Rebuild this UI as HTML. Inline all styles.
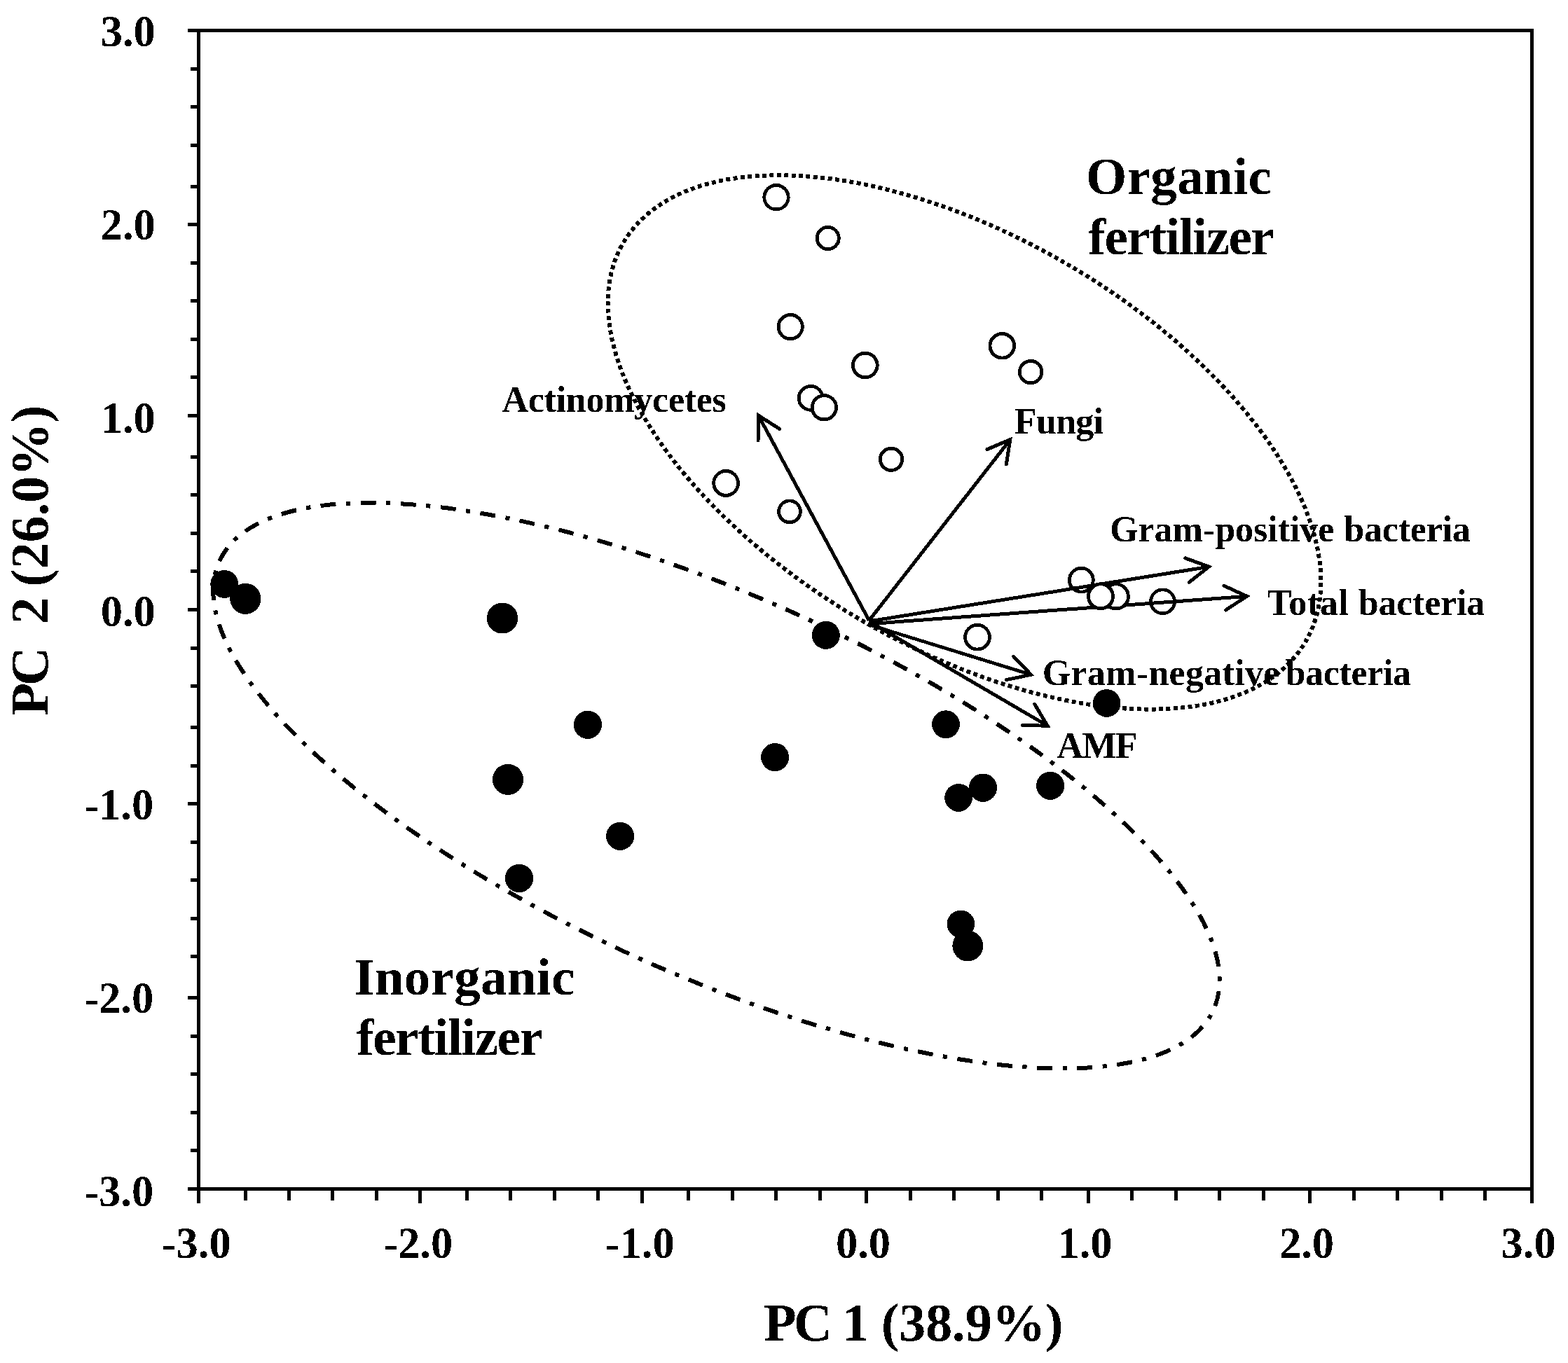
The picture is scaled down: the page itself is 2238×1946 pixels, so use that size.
<!DOCTYPE html>
<html lang="en">
<head>
<meta charset="utf-8">
<title>PCA biplot: PC 1 (38.9%) vs PC 2 (26.0%)</title>
<style>
html, body { margin: 0; padding: 0; background: #fff; }
body { width: 2238px; height: 1946px; overflow: hidden; }
svg { display: block; }
text { font-family: 'Liberation Serif', 'Times New Roman', Times, serif; font-weight: bold; fill: #000; white-space: pre; }
</style>
</head>
<body>
<svg width="2238" height="1946" viewBox="0 0 2238 1946" role="img" aria-label="PCA biplot of soil microbial groups under organic and inorganic fertilizer">
<defs>
<filter id="bilevel" x="0" y="0" width="2238" height="1946" filterUnits="userSpaceOnUse" color-interpolation-filters="sRGB">
<feComponentTransfer>
<feFuncR type="discrete" tableValues="0 1"/>
<feFuncG type="discrete" tableValues="0 1"/>
<feFuncB type="discrete" tableValues="0 1"/>
</feComponentTransfer>
</filter>
</defs>
<g filter="url(#bilevel)">
<rect x="0" y="0" width="2238" height="1946" fill="#ffffff"/>
<!-- filled markers: inorganic fertilizer -->
<g fill="#000" stroke="none">
<circle cx="320.2" cy="833.8" r="19.9"/>
<circle cx="350.3" cy="854.8" r="22.1"/>
<circle cx="717.0" cy="882.5" r="22.1"/>
<circle cx="1178.8" cy="906.8" r="20.0"/>
<circle cx="838.9" cy="1034.7" r="20.1"/>
<circle cx="1350.0" cy="1034.1" r="19.9"/>
<circle cx="1579.6" cy="1003.9" r="19.8"/>
<circle cx="1106.1" cy="1081.1" r="20.0"/>
<circle cx="725.0" cy="1112.9" r="22.1"/>
<circle cx="1368.1" cy="1138.8" r="19.9"/>
<circle cx="1403.1" cy="1124.6" r="20.1"/>
<circle cx="1499.1" cy="1121.8" r="20.0"/>
<circle cx="885.1" cy="1193.8" r="20.0"/>
<circle cx="741.0" cy="1253.8" r="20.2"/>
<circle cx="1371.4" cy="1319.2" r="19.8"/>
<circle cx="1381.3" cy="1350.4" r="21.9"/>
</g>
<!-- open markers (lower layer): organic fertilizer -->
<g fill="#fff" stroke="#000" stroke-width="4.8">
<circle cx="1108.0" cy="281.7" r="17.20"/>
<circle cx="1181.7" cy="340.0" r="15.60"/>
<circle cx="1128.2" cy="466.6" r="17.10"/>
<circle cx="1234.8" cy="521.5" r="17.40"/>
<circle cx="1157.2" cy="568.4" r="17.00"/>
<circle cx="1176.4" cy="581.8" r="17.20"/>
<circle cx="1430.3" cy="493.8" r="17.30"/>
<circle cx="1471.1" cy="531.1" r="15.80"/>
<circle cx="1272.0" cy="655.8" r="15.70"/>
<circle cx="1036.1" cy="689.9" r="17.40"/>
<circle cx="1127.0" cy="730.3" r="15.40"/>
<circle cx="1543.3" cy="828.1" r="17.00"/>
<circle cx="1659.5" cy="858.9" r="17.00"/>
<circle cx="1395.0" cy="909.7" r="17.40"/>
</g>
<!-- loading arrows -->
<g fill="none" stroke="#000" stroke-width="5.0" stroke-linecap="butt" stroke-linejoin="miter">
<line x1="1240.5" y1="885.9" x2="1083.4" y2="594.9"/>
<polyline points="1112.6,612.4 1082.4,593.1 1082.0,628.9" stroke-linecap="round" stroke-miterlimit="10"/>
<line x1="1240.5" y1="885.9" x2="1440.6" y2="629.2"/>
<polyline points="1436.3,663.0 1441.8,627.6 1408.9,641.6" stroke-linecap="round" stroke-miterlimit="10"/>
<line x1="1240.5" y1="887.0" x2="1723.5" y2="809.5"/>
<polyline points="1697.3,831.3 1725.5,809.1 1691.8,796.9" stroke-linecap="round" stroke-miterlimit="10"/>
<line x1="1240.5" y1="890.7" x2="1777.5" y2="851.5"/>
<polyline points="1749.5,871.0 1779.5,851.3 1746.9,836.3" stroke-linecap="round" stroke-miterlimit="10"/>
<line x1="1240.5" y1="891.9" x2="1469.6" y2="962.6"/>
<polyline points="1436.5,970.6 1471.6,963.2 1446.7,937.4" stroke-linecap="round" stroke-miterlimit="10"/>
<line x1="1240.6" y1="887.4" x2="1493.4" y2="1035.2"/>
<polyline points="1459.2,1035.4 1495.1,1036.2 1476.8,1005.4" stroke-linecap="round" stroke-miterlimit="10"/>
</g>
<!-- open markers (upper layer) -->
<g fill="#fff" stroke="#000" stroke-width="4.8">
<circle cx="1592.8" cy="851.4" r="17.60"/>
<circle cx="1571.0" cy="851.4" r="17.50"/>
</g>
<!-- group ellipses -->
<g fill="none" stroke="#000">
<ellipse cx="0" cy="0" rx="564.0" ry="293.6" transform="translate(1376.5 631.4) rotate(30.34)" stroke-width="6.0" stroke-dasharray="6 4.4212" stroke-dashoffset="5.12"/>
<ellipse cx="0" cy="0" rx="778.4" ry="270.2" transform="translate(1022.5 1121.6) rotate(24.27)" stroke-width="6.0" stroke-dasharray="22 14.5125 6.2 14.5125" stroke-dashoffset="28.2"/>
</g>
<!-- axes frame and ticks -->
<g fill="#000" stroke="none" shape-rendering="crispEdges">
<rect x="268" y="41" width="1921" height="5"/>
<rect x="268" y="1695" width="1921" height="5"/>
<rect x="281" y="41" width="5" height="1677"/>
<rect x="2184" y="41" width="5" height="1677"/>
<rect x="272" y="96" width="9" height="5"/>
<rect x="272" y="150" width="9" height="5"/>
<rect x="272" y="205" width="9" height="5"/>
<rect x="272" y="264" width="9" height="5"/>
<rect x="268" y="318" width="13" height="5"/>
<rect x="272" y="373" width="9" height="5"/>
<rect x="272" y="427" width="9" height="5"/>
<rect x="272" y="482" width="9" height="5"/>
<rect x="272" y="536" width="9" height="5"/>
<rect x="268" y="591" width="13" height="5"/>
<rect x="272" y="650" width="9" height="5"/>
<rect x="272" y="704" width="9" height="5"/>
<rect x="272" y="759" width="9" height="5"/>
<rect x="272" y="813" width="9" height="5"/>
<rect x="268" y="868" width="13" height="5"/>
<rect x="272" y="923" width="9" height="5"/>
<rect x="272" y="977" width="9" height="5"/>
<rect x="272" y="1036" width="9" height="5"/>
<rect x="272" y="1091" width="9" height="5"/>
<rect x="268" y="1145" width="13" height="5"/>
<rect x="272" y="1200" width="9" height="5"/>
<rect x="272" y="1254" width="9" height="5"/>
<rect x="272" y="1309" width="9" height="5"/>
<rect x="272" y="1363" width="9" height="5"/>
<rect x="268" y="1422" width="13" height="5"/>
<rect x="272" y="1477" width="9" height="5"/>
<rect x="272" y="1531" width="9" height="5"/>
<rect x="272" y="1586" width="9" height="5"/>
<rect x="272" y="1640" width="9" height="5"/>
<rect x="348" y="1700" width="5" height="14"/>
<rect x="410" y="1700" width="5" height="14"/>
<rect x="472" y="1700" width="5" height="14"/>
<rect x="535" y="1700" width="5" height="14"/>
<rect x="597" y="1700" width="5" height="18"/>
<rect x="664" y="1700" width="5" height="14"/>
<rect x="726" y="1700" width="5" height="14"/>
<rect x="789" y="1700" width="5" height="14"/>
<rect x="851" y="1700" width="5" height="14"/>
<rect x="914" y="1700" width="5" height="18"/>
<rect x="980" y="1700" width="5" height="14"/>
<rect x="1043" y="1700" width="5" height="14"/>
<rect x="1105" y="1700" width="5" height="14"/>
<rect x="1168" y="1700" width="5" height="14"/>
<rect x="1234" y="1700" width="5" height="18"/>
<rect x="1297" y="1700" width="5" height="14"/>
<rect x="1359" y="1700" width="5" height="14"/>
<rect x="1422" y="1700" width="5" height="14"/>
<rect x="1484" y="1700" width="5" height="14"/>
<rect x="1551" y="1700" width="5" height="18"/>
<rect x="1613" y="1700" width="5" height="14"/>
<rect x="1676" y="1700" width="5" height="14"/>
<rect x="1738" y="1700" width="5" height="14"/>
<rect x="1801" y="1700" width="5" height="14"/>
<rect x="1867" y="1700" width="5" height="18"/>
<rect x="1930" y="1700" width="5" height="14"/>
<rect x="1992" y="1700" width="5" height="14"/>
<rect x="2055" y="1700" width="5" height="14"/>
<rect x="2117" y="1700" width="5" height="14"/>
</g>
<!-- tick labels -->
<g>
<text x="143.70" y="66.10" font-size="62.5" letter-spacing="0.000">3.0</text>
<text x="143.70" y="342.10" font-size="62.5" letter-spacing="0.000">2.0</text>
<text x="143.70" y="618.10" font-size="62.5" letter-spacing="0.000">1.0</text>
<text x="143.70" y="894.10" font-size="62.5" letter-spacing="0.000">0.0</text>
<text x="120.20" y="1170.10" font-size="62.5" letter-spacing="0.000">-1.0</text>
<text x="120.20" y="1446.10" font-size="62.5" letter-spacing="0.000">-2.0</text>
<text x="120.20" y="1722.10" font-size="62.5" letter-spacing="0.000">-3.0</text>
<text x="230.80" y="1796.20" font-size="62.5" letter-spacing="0.000">-3.0</text>
<text x="547.26" y="1796.20" font-size="62.5" letter-spacing="0.000">-2.0</text>
<text x="863.73" y="1796.20" font-size="62.5" letter-spacing="0.000">-1.0</text>
<text x="1192.96" y="1796.20" font-size="62.5" letter-spacing="0.000">0.0</text>
<text x="1509.42" y="1796.20" font-size="62.5" letter-spacing="0.000">1.0</text>
<text x="1825.88" y="1796.20" font-size="62.5" letter-spacing="0.000">2.0</text>
<text x="2142.50" y="1796.20" font-size="62.5" letter-spacing="0.000">3.0</text>
</g>
<!-- labels and titles -->
<g>
<text y="277.30" font-size="75"><tspan x="1550.00" letter-spacing="0.367">Organic</tspan></text>
<text y="362.70" font-size="75"><tspan x="1553.00" letter-spacing="-1.478">fertilizer</tspan></text>
<text y="1420.00" font-size="75"><tspan x="505.20" letter-spacing="0.325">Inorganic</tspan></text>
<text y="1506.00" font-size="75"><tspan x="508.70" letter-spacing="-1.433">fertilizer</tspan></text>
<text y="588.30" font-size="52"><tspan x="716.50" letter-spacing="-0.258">Actinomycetes</tspan></text>
<text y="619.20" font-size="52"><tspan x="1448.10" letter-spacing="-0.775">Fungi</tspan></text>
<text y="773.00" font-size="52"><tspan x="1584.10" letter-spacing="-0.025">Gram-positive</tspan> <tspan x="1918.30" letter-spacing="-0.200">bacteria</tspan></text>
<text y="878.20" font-size="52"><tspan x="1808.80" letter-spacing="0.600">Total</tspan> <tspan x="1938.70" letter-spacing="-0.200">bacteria</tspan></text>
<text y="978.30" font-size="52"><tspan x="1487.70" letter-spacing="0.308">Gram-negative</tspan> <tspan x="1834.50" letter-spacing="-0.343">bacteria</tspan></text>
<text y="1081.50" font-size="52"><tspan x="1508.60" letter-spacing="-1.650">AMF</tspan></text>
<text y="1914.30" font-size="76.5"><tspan x="1089.90" letter-spacing="-3.800">PC</tspan> <tspan x="1202.00" letter-spacing="0.000">1</tspan> <tspan x="1257.70" letter-spacing="-0.267">(38.9%)</tspan></text>
<text transform="translate(68.10 1020.80) rotate(-90)" y="0" font-size="76.5"><tspan x="-1.00" letter-spacing="-4.000">PC</tspan> <tspan x="129.70" letter-spacing="0.000">2</tspan> <tspan x="183.20" letter-spacing="-0.367">(26.0%)</tspan></text>
</g>
</g>
</svg>
</body>
</html>
